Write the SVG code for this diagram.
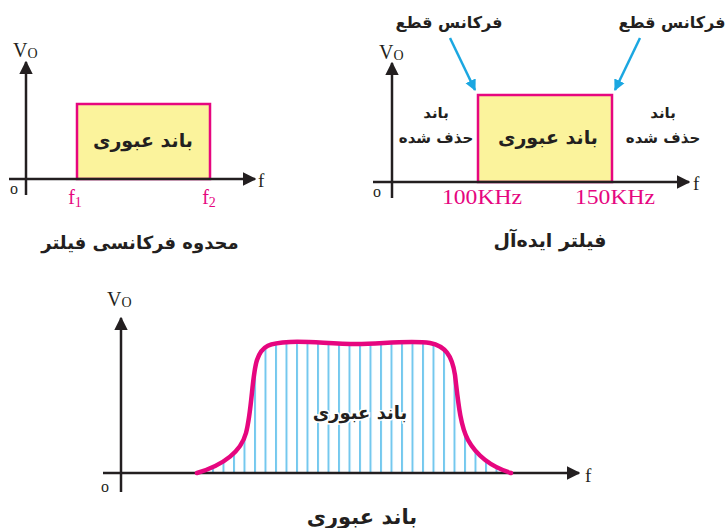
<svg xmlns="http://www.w3.org/2000/svg" width="728" height="528" viewBox="0 0 728 528">
<defs>
<style>
.ax{stroke:#231f20;stroke-width:2.5;fill:none}
.fa{font-family:"DejaVu Sans","Noto Sans",sans-serif;font-weight:bold;fill:#231f20;text-anchor:middle}
.sr{font-family:"Liberation Serif",serif;fill:#231f20}
.mg{font-family:"Liberation Serif",serif;fill:#e6067f;text-anchor:middle}
.band{fill:#fbf39c;stroke:#e6067f;stroke-width:2.5}
.cut{stroke:#1ba7e1;stroke-width:2.5;fill:none}
</style>
<marker id="ah" viewBox="0 0 10 10" refX="9" refY="5" markerWidth="5.5" markerHeight="5.5" orient="auto" markerUnits="strokeWidth"><path d="M0,0 L10,5 L0,10 Z" fill="#231f20"/></marker>
<marker id="bh" viewBox="0 0 10 10" refX="9" refY="5" markerWidth="4.5" markerHeight="5" orient="auto" markerUnits="strokeWidth"><path d="M0,0 L10,5 L0,10 Z" fill="#1ba7e1"/></marker>
<pattern id="hatch" patternUnits="userSpaceOnUse" x="2" y="0" width="10.5" height="20"><rect x="0" y="0" width="2" height="20" fill="#74c8ee"/></pattern>
<clipPath id="under"><path d="M197,473 C220,466 240,455 246,433 C252,410 252,375 257,360 C262,345 270,343 290,342 C310,341 330,344 357,344 C380,344 410,340 430,343 C445,346 452,355 455,375 C458,400 460,425 468,440 C478,458 495,468 511,473 Z"/></clipPath>
</defs>
<rect width="728" height="528" fill="#ffffff"/>

<g id="panel1">
<rect class="band" x="77" y="104" width="133" height="75"/>
<g id="connectors1">
<line class="ax" x1="26" y1="195" x2="26" y2="62" marker-end="url(#ah)"/>
<line class="ax" x1="9" y1="179" x2="255" y2="179" marker-end="url(#ah)"/>
</g>
<text class="sr" x="13" y="57" font-size="20">V<tspan font-size="14" dy="1">O</tspan></text>
<text class="sr" x="258" y="187" font-size="19">f</text>
<text class="sr" x="10" y="194" font-size="16">o</text>
<text class="mg" x="75" y="204" font-size="20">f<tspan font-size="14" dy="3">1</tspan></text>
<text class="mg" x="209" y="204" font-size="20">f<tspan font-size="14" dy="3">2</tspan></text>
<text class="fa" x="143" y="147" font-size="19">باند عبوری</text>
<text class="fa" x="140" y="249" font-size="18">محدوه فرکانسی فیلتر</text>
</g>

<g id="panel2">
<rect class="band" x="478" y="95" width="134" height="87"/>
<g id="connectors2">
<line class="ax" x1="392" y1="198" x2="392" y2="63" marker-end="url(#ah)"/>
<line class="ax" x1="373" y1="182" x2="689" y2="182" marker-end="url(#ah)"/>
<line class="cut" x1="450" y1="38" x2="475" y2="90" marker-end="url(#bh)"/>
<line class="cut" x1="640" y1="38" x2="615" y2="90" marker-end="url(#bh)"/>
</g>
<text class="sr" x="379" y="59" font-size="20">V<tspan font-size="14" dy="1">O</tspan></text>
<text class="sr" x="693" y="190" font-size="19">f</text>
<text class="sr" x="373" y="197" font-size="16">o</text>
<text class="mg" x="482" y="204" font-size="20" textLength="80" lengthAdjust="spacingAndGlyphs">100KHz</text>
<text class="mg" x="615" y="204" font-size="20" textLength="80" lengthAdjust="spacingAndGlyphs">150KHz</text>
<text class="fa" x="449" y="28" font-size="16">فرکانس قطع</text>
<text class="fa" x="672" y="28" font-size="16">فرکانس قطع</text>
<text class="fa" x="436" y="118" font-size="15">باند</text>
<text class="fa" x="436" y="143" font-size="15">حذف شده</text>
<text class="fa" x="663" y="118" font-size="15">باند</text>
<text class="fa" x="663" y="143" font-size="15">حذف شده</text>
<text class="fa" x="548" y="144" font-size="19">باند عبوری</text>
<text class="fa" x="550" y="247" font-size="19">فیلتر ایده&#8204;آل</text>
</g>

<g id="panel3">
<rect x="190" y="330" width="330" height="145" fill="url(#hatch)" clip-path="url(#under)"/>
<g id="connectors3">
<line class="ax" x1="121" y1="492" x2="121" y2="318" marker-end="url(#ah)"/>
<line class="ax" x1="103" y1="473" x2="579" y2="473" marker-end="url(#ah)"/>
</g>
<path d="M197,473 C220,466 240,455 246,433 C252,410 252,375 257,360 C262,345 270,343 290,342 C310,341 330,344 357,344 C380,344 410,340 430,343 C445,346 452,355 455,375 C458,400 460,425 468,440 C478,458 495,468 511,473" fill="none" stroke="#e6067f" stroke-width="4.5" stroke-linecap="round"/>
<text class="sr" x="107" y="306" font-size="20">V<tspan font-size="14" dy="1">O</tspan></text>
<text class="sr" x="585" y="482" font-size="19">f</text>
<text class="sr" x="101" y="492" font-size="16">o</text>
<text class="fa" x="360" y="419" font-size="18" stroke="#ffffff" stroke-width="3" paint-order="stroke">باند عبوری</text>
<text class="fa" x="362" y="524" font-size="21">باند عبوری</text>
</g>
</svg>
